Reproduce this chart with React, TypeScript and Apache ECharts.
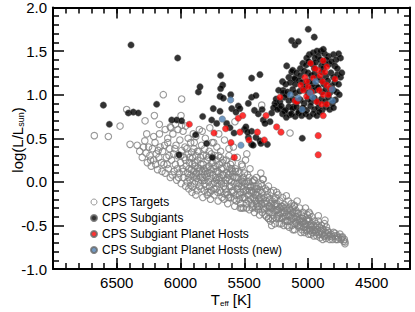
import React, { useEffect, useRef } from "react";
import * as echarts from "echarts";

// [Teff (K), log(L/Lsun)]
const cpsTargets: [number, number][] = [
  [6676,0.53],[6566,0.52],[6474,0.64],[6396,0.43],[6422,0.83],[6278,0.70],[6205,0.76],[6166,0.66],[6265,0.55],
  [6135,1.00],[5991,0.95],[5996,0.76],[6080,0.63],[6040,0.66],[5363,0.88],[5141,0.56],[5573,0.69],[5960,0.64],
  [5351,0.03],[5421,0.02],[5507,-0.30],[5246,-0.12],[5107,-0.27],[4992,-0.35],[5285,-0.50],[5311,-0.42],
  [4867,-0.44],[4919,-0.39],[4710,-0.69],[4736,-0.64],
  [6340,0.42],[6320,0.35],[6300,0.28],[6290,0.40],[6270,0.33],[6260,0.22],[6280,0.47],
  [6240,0.30],[6230,0.18],[6220,0.38],[6210,0.25],[6200,0.45],[6190,0.32],[6180,0.14],[6170,0.28],[6160,0.40],
  [6150,0.22],[6210,0.52],[6165,0.55],
  [6140,0.35],[6130,0.20],[6120,0.10],[6110,0.28],[6100,0.45],[6095,0.15],[6085,0.38],[6080,0.05],[6070,0.25],
  [6060,0.55],[6055,0.32],[6050,0.12],[6120,0.60],[6075,0.62],[6100,0.50],
  [6040,0.20],[6035,0.42],[6030,0.02],[6020,0.30],[6010,0.10],[6005,0.48],[6000,0.22],[5995,-0.02],[5990,0.36],
  [5985,0.15],[5980,0.58],[5975,0.05],[5970,0.28],[5965,0.40],[5960,-0.05],[5955,0.18],[6020,0.60],[5990,0.65],
  [5945,0.10],[5940,0.32],[5935,-0.08],[5930,0.22],[5925,0.02],[5920,0.45],[5915,0.14],[5910,-0.12],[5905,0.28],
  [5900,0.06],[5895,0.38],[5890,-0.02],[5885,0.18],[5880,0.52],[5875,0.10],[5870,-0.10],[5865,0.25],[5860,0.00],
  [5858,0.35],[5855,0.12],[5852,0.60],[5900,0.55],[5940,0.50],[5880,-0.15],[5920,-0.04],
  [5948,0.00],[5932,0.15],[5918,0.08],[5903,-0.06],[5888,0.22],[5872,0.04],[5862,0.16],[5912,0.34],[5896,0.12],[5878,0.30],
  [5845,0.05],[5840,0.20],[5838,-0.08],[5835,0.42],[5830,0.12],[5825,-0.18],[5820,0.30],[5815,0.02],[5810,0.08],
  [5805,0.50],[5800,-0.05],[5795,0.16],[5790,0.25],[5785,-0.12],[5780,0.00],[5775,0.35],[5770,0.10],[5765,-0.20],
  [5760,0.04],[5755,0.22],[5752,0.45],[5830,0.58],[5790,-0.15],[5810,0.38],[5770,0.62],
  [5848,0.15],[5836,0.02],[5822,0.20],[5812,-0.10],[5802,0.12],[5792,0.06],[5782,0.28],[5772,-0.05],[5762,0.14],[5756,-0.10],
  [5745,-0.02],[5740,0.15],[5735,-0.15],[5730,0.30],[5725,0.05],[5720,-0.08],[5715,0.40],[5710,0.12],[5705,-0.22],
  [5700,0.02],[5695,0.20],[5690,-0.10],[5685,0.35],[5680,0.00],[5675,-0.18],[5670,0.08],[5665,0.25],[5660,-0.05],
  [5655,0.48],[5652,-0.14],[5700,0.55],[5740,0.45],[5720,0.25],[5680,0.15],
  [5748,0.08],[5738,-0.08],[5728,0.18],[5718,0.02],[5708,-0.12],[5698,0.10],[5688,0.28],[5678,-0.02],[5668,0.16],[5658,-0.20],
  [5645,0.02],[5640,-0.12],[5635,0.18],[5630,-0.25],[5625,0.08],[5620,0.30],[5615,-0.05],[5610,0.10],[5605,-0.18],
  [5600,0.00],[5595,0.22],[5590,-0.10],[5585,0.40],[5580,-0.02],[5575,-0.28],[5570,0.12],[5565,-0.15],[5560,0.05],
  [5555,0.28],[5552,-0.08],[5620,0.38],[5600,0.15],
  [5648,-0.08],[5638,0.10],[5628,-0.15],[5618,0.02],[5608,0.20],[5598,-0.12],[5588,0.06],[5578,-0.20],[5568,0.15],[5558,-0.02],
  [5545,-0.05],[5540,-0.20],[5535,0.10],[5530,-0.12],[5525,0.02],[5520,-0.30],[5515,0.18],[5510,-0.08],[5505,0.05],
  [5500,-0.18],[5495,-0.02],[5490,0.25],[5485,-0.25],[5480,-0.10],[5475,0.08],[5470,-0.15],[5465,0.00],[5460,-0.32],
  [5455,0.15],[5452,-0.06],[5520,0.20],[5480,0.32],
  [5548,0.05],[5538,-0.15],[5528,-0.25],[5518,0.00],[5508,-0.12],[5498,0.10],[5488,-0.20],[5478,0.00],[5468,-0.22],[5458,-0.10],
  [5445,-0.12],[5440,-0.25],[5435,0.00],[5430,-0.18],[5425,0.02],[5420,-0.35],[5415,-0.08],[5410,-0.22],[5405,0.05],
  [5400,-0.15],[5395,-0.28],[5390,-0.05],[5385,-0.20],[5380,-0.38],[5375,-0.10],[5370,0.10],[5365,-0.25],[5360,-0.12],
  [5355,0.03],[5350,-0.30],
  [5448,-0.05],[5438,-0.30],[5428,-0.12],[5418,-0.20],[5408,-0.30],[5398,-0.08],[5388,-0.32],[5378,-0.18],[5368,-0.02],[5358,-0.35],
  [5345,-0.18],[5340,-0.32],[5335,-0.08],[5330,-0.22],[5325,-0.40],[5320,-0.15],[5315,-0.28],[5310,-0.05],[5305,-0.35],
  [5300,-0.20],[5295,-0.45],[5290,-0.12],[5285,-0.30],[5280,-0.22],[5275,-0.38],[5270,-0.10],[5265,-0.27],[5260,-0.48],
  [5255,-0.18],[5250,-0.33],
  [5342,-0.25],[5322,-0.10],[5302,-0.28],[5282,-0.35],[5262,-0.20],[5242,-0.32],[5222,-0.42],[5202,-0.28],[5182,-0.35],[5162,-0.50],
  [5245,-0.25],[5240,-0.40],[5235,-0.15],[5230,-0.32],[5225,-0.48],[5220,-0.22],[5215,-0.36],[5210,-0.28],[5205,-0.42],
  [5200,-0.18],[5195,-0.35],[5190,-0.50],[5185,-0.26],[5180,-0.40],[5175,-0.30],[5170,-0.16],[5165,-0.45],[5160,-0.33],
  [5155,-0.22],[5150,-0.38],
  [5145,-0.30],[5140,-0.45],[5135,-0.38],[5130,-0.25],[5125,-0.50],[5120,-0.35],[5115,-0.42],[5110,-0.28],[5105,-0.55],
  [5100,-0.40],[5095,-0.33],[5090,-0.48],[5085,-0.22],[5080,-0.44],[5075,-0.36],[5070,-0.52],[5065,-0.30],[5060,-0.42],
  [5055,-0.58],[5050,-0.38],
  [5142,-0.40],[5122,-0.30],[5102,-0.48],[5082,-0.36],[5062,-0.46],[5042,-0.42],[5022,-0.52],[5002,-0.44],[4982,-0.50],[4962,-0.55],
  [5045,-0.45],[5040,-0.35],[5035,-0.52],[5030,-0.40],[5025,-0.48],[5020,-0.30],[5015,-0.56],[5010,-0.44],[5005,-0.38],
  [5000,-0.50],[4995,-0.60],[4990,-0.45],[4985,-0.37],[4980,-0.55],[4975,-0.48],[4970,-0.40],[4965,-0.58],[4960,-0.50],
  [4955,-0.62],[4950,-0.45],
  [4945,-0.52],[4940,-0.58],[4935,-0.48],[4930,-0.62],[4925,-0.55],[4920,-0.45],[4915,-0.60],[4910,-0.52],[4905,-0.64],
  [4900,-0.56],[4895,-0.50],[4890,-0.60],[4885,-0.66],[4880,-0.55],[4875,-0.62],[4870,-0.48],[4865,-0.58],[4860,-0.65],
  [4855,-0.52],[4850,-0.60],
  [4845,-0.62],[4840,-0.58],[4830,-0.66],[4820,-0.60],[4810,-0.63],[4800,-0.58],[4790,-0.62],[4780,-0.66],[4770,-0.62],
  [4760,-0.64],[4750,-0.60],[4740,-0.66],[4730,-0.63],[4720,-0.68],[4715,-0.66],[4710,-0.71],
  // additional dense-core points
  [6250,0.40],[6235,0.25],[6195,0.20],[6175,0.36],[6145,0.12],[6125,0.42],[6105,0.20],[6090,0.30],[6065,0.08],[6045,0.38],
  [6025,0.15],[6015,0.05],[5998,0.30],[5978,0.12],[5962,0.25],[5950,0.38],[5938,0.05],[5928,0.28],[5908,0.20],[5892,0.45],
  [5882,0.08],[5868,0.35],[5854,-0.05],[5843,0.28],[5828,0.05],[5818,0.15],[5808,-0.02],[5798,0.30],[5788,0.10],[5778,0.18],
  [5768,-0.12],[5758,0.32],[5746,0.22],[5733,0.00],[5722,0.12],[5712,-0.02],[5702,0.30],[5692,0.05],[5682,-0.12],[5672,0.22],
  [5662,0.08],[5650,-0.02],[5642,0.25],[5632,0.05],[5622,-0.18],[5612,0.15],[5602,-0.05],[5592,0.12],[5582,-0.12],[5572,0.05],
  [5562,-0.22],[5550,0.12],[5542,-0.02],[5532,-0.30],[5522,-0.05],[5512,-0.18],[5502,0.00],[5492,-0.10],[5482,-0.30],[5472,-0.05],
  [5462,0.05],[5450,-0.20],[5442,-0.10],[5432,-0.28],[5422,-0.05],[5412,-0.15],[5402,-0.25],[5392,-0.12],[5382,-0.28],[5372,-0.22],
  [5362,-0.05],[5352,-0.20],[5338,-0.38],[5328,-0.30],[5318,-0.18],[5308,-0.42],[5298,-0.30],[5288,-0.25],[5278,-0.42],[5268,-0.33],
  [5258,-0.25],[5248,-0.42],[5238,-0.28],[5228,-0.38],[5218,-0.30],[5208,-0.48],[5198,-0.40],[5188,-0.30],[5178,-0.45],[5168,-0.38],
  [5158,-0.45],[5148,-0.52],[5138,-0.33],[5128,-0.42],[5118,-0.55],[5108,-0.36],[5098,-0.46],[5088,-0.40],[5078,-0.50],[5068,-0.44],
  [5058,-0.50],[5048,-0.55],[5038,-0.46],[5028,-0.58],[5018,-0.48],[5008,-0.55],[4998,-0.42],[4988,-0.56],[4978,-0.60],[4968,-0.52],
  [4948,-0.56],[4928,-0.50],[4908,-0.58],[4888,-0.54],[4868,-0.62],[4848,-0.56],[4828,-0.62],[4808,-0.66],[4788,-0.59],[4768,-0.66]
];

const cpsSubgiants: [number, number][] = [
  [6388,1.57],[6022,1.42],[6605,0.88],[6558,0.66],[6409,0.79],[6370,0.80],[6331,0.79],[6187,0.89],
  [6069,0.71],[6030,0.71],[5991,0.70],[6012,0.31],[5881,0.54],[5860,1.03],[5847,1.09],[5826,0.75],
  [5795,0.44],[5750,0.28],[5755,0.71],[5716,0.67],[5743,0.84],[5690,0.81],[5685,1.22],[5669,1.11],
  [5685,1.07],[5690,0.98],[5664,0.96],[5638,0.67],[5612,0.62],[5606,1.00],[5598,0.84],[5547,0.87],
  [5534,0.84],[5565,0.80],[5442,0.97],[5408,0.99],[5468,0.90],[5442,1.19],[5377,1.23],
  [5468,0.51],[5442,0.58],[5408,0.51],[5377,0.47],[5319,0.43],[5369,0.44],[5351,0.71],[5298,0.69],
  [5337,0.67],[5285,0.79],[5246,0.88],[5259,0.90],[5220,0.84],[5180,0.81],[5141,0.77],[5167,1.33],
  [5128,1.26],[5102,1.19],[5194,1.05],[5167,1.00],[5115,0.86],[5420,0.82],[5390,0.78],[5360,0.83],
  [5128,1.62],[5102,1.57],[5076,1.61],[4998,1.75],[4951,1.66],[5045,0.50],
  [5580,0.56],[5500,0.60],[5487,0.63],[5474,0.57],[5443,0.43],[5430,0.42],
  [4990,1.46],[4960,1.48],[4930,1.50],[4900,1.50],[4870,1.47],[4840,1.44],[4800,1.46],[4760,1.47],
  [4745,1.42],[4880,1.52],[4920,1.44],[5010,1.42],[4855,1.40],[4780,1.40],[4945,1.42],
  [5040,1.36],[5015,1.34],[4995,1.38],[4965,1.35],[4940,1.37],[4905,1.40],[4895,1.33],[4870,1.36],
  [4835,1.35],[4815,1.38],[4790,1.33],[4770,1.30],[5060,1.30],[4950,1.30],[4880,1.30],
  [5120,1.28],[5090,1.25],[5060,1.22],[5030,1.27],[5000,1.25],[4975,1.22],[4950,1.24],[4930,1.20],
  [4890,1.26],[4860,1.21],[4820,1.25],[4800,1.20],[4770,1.23],[4745,1.20],[4735,1.25],[5150,1.20],[5105,1.18],
  [5200,1.15],[5175,1.12],[5140,1.14],[5100,1.12],[5070,1.16],[5045,1.14],[5020,1.10],[4990,1.15],
  [4960,1.13],[4935,1.10],[4900,1.17],[4875,1.12],[4845,1.16],[4815,1.10],[4790,1.14],[4760,1.12],
  [5230,1.05],[5195,1.02],[5160,1.03],[5120,1.06],[5100,1.02],[5065,1.04],[5035,1.07],[5000,1.02],
  [4970,1.08],[4945,1.05],[4920,1.08],[4890,1.03],[4860,1.06],[4830,1.02],[4800,1.05],[4775,1.03],[4755,1.00],
  [5250,0.95],[5220,0.92],[5185,0.97],[5150,0.93],[5120,0.95],[5090,0.91],[5060,0.94],[5030,0.90],
  [5000,0.95],[4975,0.92],[4950,0.96],[4920,0.91],[4895,0.95],[4865,0.92],[4840,0.97],[4810,0.90],[4785,0.94],
  [5270,0.85],[5240,0.83],[5210,0.87],[5180,0.82],[5150,0.86],[5120,0.84],[5090,0.86],[5070,0.81],
  [5040,0.85],[5010,0.82],[4980,0.87],[4950,0.83],[4920,0.85],[4890,0.82],[4860,0.86],[4830,0.83],[4800,0.85],
  [5200,0.78],[5170,0.74],[5130,0.78],[5100,0.75],[5075,0.79],[5050,0.76],[5020,0.78],[4990,0.75],
  [4960,0.78],[4930,0.76],[4910,0.80]
];

const planetHosts: [number, number][] = [
  [5931,0.66],[5737,0.56],[5646,0.61],[5604,0.45],[5578,0.28],[5547,0.73],[5512,0.76],[5534,0.57],
  [5463,0.48],[5397,0.57],[5343,0.48],[5329,0.76],[5246,0.63],[5212,0.57],[5220,0.97],[5102,0.93],
  [4980,1.36],[4881,1.39],[4788,1.18],[4881,0.76],[4920,0.53],[4920,0.31],
  [5024,1.20],[5010,1.15],[5057,1.11],[5037,1.05],[4998,1.09],[4972,1.03],[4920,1.28],[4906,1.22],
  [4867,1.26],[4853,1.32],[4885,1.15],[4853,1.11],[4912,1.05],[4880,1.00],[4841,1.00],[4932,0.92],
  [4893,0.89],[4853,0.89],[5010,0.98],[5088,0.92],[4958,1.19],[4827,1.07],[4945,1.30]
];

const newPlanetHosts: [number, number][] = [
  [5607,0.94],[5672,0.72],[5526,0.42],[5139,1.00],[5076,0.96],[5045,0.83],[4984,1.02],[4963,0.97],
  [4940,1.15],[4810,1.06],[4807,0.93]
];

const xMajorTicks = [4500, 5000, 5500, 6000, 6500];
const seriesNames = [
  "CPS Targets",
  "CPS Subgiants",
  "CPS Subgiant Planet Hosts",
  "CPS Subgiant Planet Hosts (new)",
];

const FONT = "'Liberation Sans', Arial, Helvetica, sans-serif";

export default function App() {
  const ref = useRef<HTMLDivElement>(null);
  useEffect(() => {
    if (!ref.current) return;
    const chart = echarts.init(ref.current, null, { renderer: "svg" });
    const baseX = {
      type: "value" as const,
      min: 4200,
      max: 7000,
      inverse: true,
      splitLine: { show: false },
    };
    const minorX = (pos: string) => ({
      ...baseX,
      position: pos,
      interval: 100,
      axisLine: { show: true, onZero: false, lineStyle: { color: "#000", width: 2 } },
      axisTick: { show: true, inside: true, length: 6, lineStyle: { color: "#000", width: 1.5 } },
      axisLabel: { show: false },
    });
    const majorX = (pos: string, labels: boolean) => ({
      ...baseX,
      position: pos,
      interval: 100,
      axisLine: { show: false, onZero: false },
      axisTick: {
        show: true,
        inside: true,
        length: 11,
        customValues: xMajorTicks,
        lineStyle: { color: "#000", width: 1.5 },
      },
      axisLabel: labels
        ? {
            show: true,
            customValues: xMajorTicks,
            fontSize: 15,
            color: "#000",
            margin: 6,
            fontFamily: FONT,
            formatter: (v: number) => String(v),
          }
        : { show: false },
    });
    const yAx = (pos: string, labels: boolean) => ({
      type: "value" as const,
      min: -1,
      max: 2,
      interval: 0.5,
      position: pos,
      splitLine: { show: false },
      axisLine: { show: true, onZero: false, lineStyle: { color: "#000", width: 2 } },
      axisTick: { show: true, inside: true, length: 11, lineStyle: { color: "#000", width: 1.5 } },
      minorTick: { show: true, splitNumber: 5, length: 6, lineStyle: { color: "#000", width: 1.5 } },
      axisLabel: labels
        ? {
            show: true,
            fontSize: 15,
            color: "#000",
            margin: 6,
            fontFamily: FONT,
            formatter: (v: number) => v.toFixed(1),
          }
        : { show: false },
    });
    const filled = (color: string) => ({
      color,
      borderColor: "#666",
      borderWidth: 0.5,
    });
    chart.setOption({
      animation: false,
      backgroundColor: "#fff",
      textStyle: { fontFamily: FONT },
      grid: { left: 53, top: 5, width: 357, height: 264, containLabel: false },
      xAxis: [minorX("bottom"), majorX("bottom", true), minorX("top"), majorX("top", false)],
      yAxis: [yAx("left", true), yAx("right", false)],
      legend: {
        orient: "vertical",
        left: 90,
        top: 196,
        itemWidth: 6,
        itemHeight: 6,
        itemGap: 4,
        padding: 0,
        selectedMode: false,
        textStyle: { fontSize: 12, lineHeight: 12, color: "#000", fontFamily: FONT },
        data: [
          { name: seriesNames[0], icon: "circle", itemStyle: { color: "rgba(0,0,0,0)", borderColor: "#808080", borderWidth: 1 } },
          { name: seriesNames[1], icon: "circle" },
          { name: seriesNames[2], icon: "circle" },
          { name: seriesNames[3], icon: "circle" },
        ],
      },
      series: [
        {
          name: seriesNames[0],
          type: "scatter",
          data: cpsTargets,
          symbol: "circle",
          symbolSize: 6.5,
          itemStyle: { color: "rgba(0,0,0,0)", borderColor: "#808080", borderWidth: 1.1 },
        },
        {
          name: seriesNames[1],
          type: "scatter",
          data: cpsSubgiants,
          symbol: "circle",
          symbolSize: 6.5,
          itemStyle: filled("#000"),
        },
        {
          name: seriesNames[2],
          type: "scatter",
          data: planetHosts,
          symbol: "circle",
          symbolSize: 6.5,
          itemStyle: filled("#ff0000"),
        },
        {
          name: seriesNames[3],
          type: "scatter",
          data: newPlanetHosts,
          symbol: "circle",
          symbolSize: 6.5,
          itemStyle: filled("#4d7fb3"),
        },
      ],
      graphic: [
        {
          type: "text",
          x: 231,
          y: 296,
          style: {
            text: "{a|T}{s|eff}{a| [K]}",
            align: "center",
            verticalAlign: "middle",
            fontFamily: FONT,
            rich: {
              a: { fontSize: 15, lineHeight: 22, verticalAlign: "bottom", fontFamily: FONT, fill: "#000" },
              s: { fontSize: 8, lineHeight: 8, verticalAlign: "bottom", fontFamily: FONT, fill: "#000" },
            },
          },
        },
        {
          type: "text",
          x: 14,
          y: 140,
          rotation: Math.PI / 2,
          style: {
            text: "{a|log(L/L}{s|sun}{a|)}",
            align: "center",
            verticalAlign: "middle",
            fontFamily: FONT,
            rich: {
              a: { fontSize: 15, lineHeight: 22, verticalAlign: "bottom", fontFamily: FONT, fill: "#000" },
              s: { fontSize: 9, lineHeight: 9, verticalAlign: "bottom", fontFamily: FONT, fill: "#000" },
            },
          },
        },
      ],
    });
    return () => chart.dispose();
  }, []);
  return (
    <div
      ref={ref}
      style={{ position: "fixed", left: 0, top: 0, width: 415, height: 312, background: "#fff" }}
    />
  );
}
